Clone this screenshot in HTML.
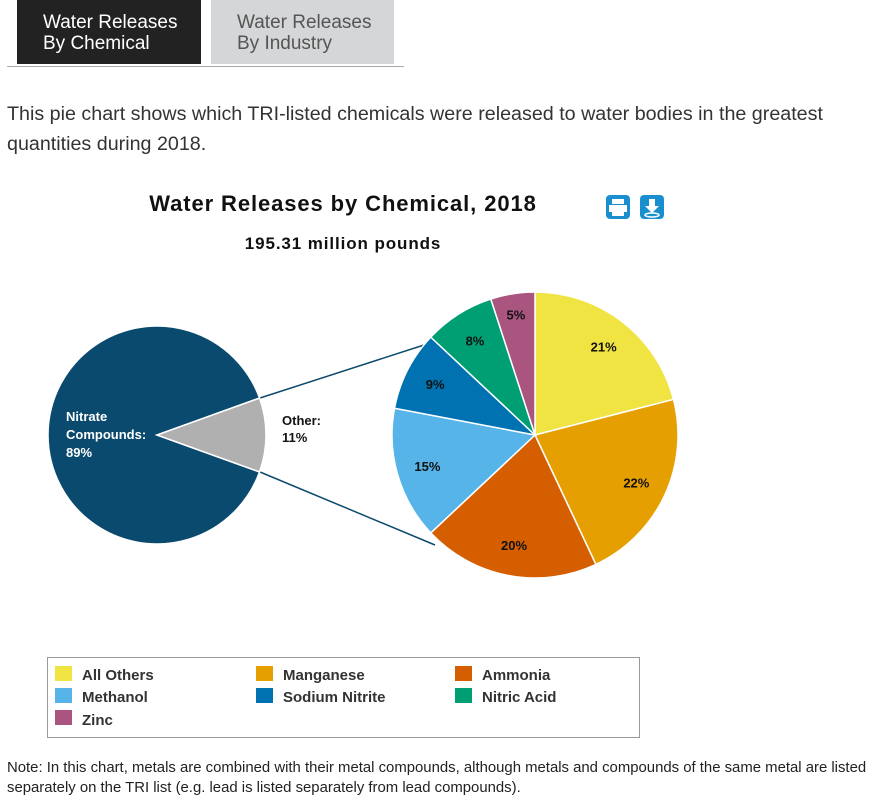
<!DOCTYPE html>
<html><head><meta charset="utf-8"><style>
body{margin:0;width:883px;height:805px;background:#fff;font-family:"Liberation Sans",sans-serif;color:#222;position:relative;overflow:hidden}
.tab{position:absolute;top:0;height:64px;width:184px;font-size:19px;line-height:21px;padding:12px 0 0 26px;box-sizing:border-box}
.t1{left:17px;background:#222;color:#fff}
.t2{left:211px;background:#d5d6d8;color:#555;width:183px}
.rule{position:absolute;left:7px;top:66px;width:397px;border-top:1px solid #aaa}
.intro{position:absolute;left:7px;top:99px;font-size:19.7px;line-height:30px;color:#333;width:876px;white-space:nowrap}
.note{position:absolute;left:7px;top:758px;font-size:14.9px;line-height:20px;color:#222;white-space:nowrap}
svg{position:absolute;left:0;top:0}
</style></head><body>
<div class="tab t1">Water Releases<br>By Chemical</div>
<div class="tab t2">Water Releases<br>By Industry</div>
<div class="rule"></div>
<div class="intro">This pie chart shows which TRI-listed chemicals were released to water bodies in the greatest<br>quantities during 2018.</div>
<svg width="883" height="805" id="s" font-family="Liberation Sans, sans-serif">
<text x="343" y="211" font-size="22" letter-spacing="0.9" font-weight="bold" text-anchor="middle" fill="#111">Water Releases by Chemical, 2018</text>
<text x="343" y="249" font-size="17" letter-spacing="0.9" font-weight="bold" text-anchor="middle" fill="#111">195.31 million pounds</text>
<rect x="606" y="195" width="24" height="24" rx="4" fill="#1a8fd0"/>
<rect x="612" y="199" width="12" height="5" fill="#fff"/><rect x="609" y="205" width="18" height="7" fill="#fff"/><rect x="612" y="212" width="12" height="4" fill="#fff"/>
<rect x="640" y="195" width="24" height="24" rx="4" fill="#1a8fd0"/>
<path d="M649 199h6v7h4l-7 7-7-7h4z" fill="#fff"/><ellipse cx="652" cy="215" rx="7" ry="2" fill="none" stroke="#fff" stroke-width="1.5"/>
<line x1="260" y1="398" x2="424" y2="345" stroke="#0c4a6e" stroke-width="1.5"/>
<line x1="260" y1="472" x2="435" y2="545" stroke="#0c4a6e" stroke-width="1.5"/>
<g id="L"></g><g id="R"></g>
<text x="66" y="421" font-size="13" font-weight="bold" fill="#fff">Nitrate</text>
<text x="66" y="439" font-size="13" font-weight="bold" fill="#fff">Compounds:</text>
<text x="66" y="457" font-size="13" font-weight="bold" fill="#fff">89%</text>
<text x="282" y="425" font-size="13" font-weight="bold" fill="#111">Other:</text>
<text x="282" y="442" font-size="13" font-weight="bold" fill="#111">11%</text>
<rect x="47.5" y="657.5" width="592" height="80" fill="#fff" stroke="#999"/>
<g font-size="15" font-weight="bold" fill="#333">
<rect x="55" y="666" width="17" height="15" fill="#f0e442"/><text x="82" y="680">All Others</text>
<rect x="256" y="666" width="17" height="15" fill="#e69f00"/><text x="283" y="680">Manganese</text>
<rect x="455" y="666" width="17" height="15" fill="#d55e00"/><text x="482" y="680">Ammonia</text>
<rect x="55" y="688" width="17" height="15" fill="#56b4e9"/><text x="82" y="702">Methanol</text>
<rect x="256" y="688" width="17" height="15" fill="#0072b2"/><text x="283" y="702">Sodium Nitrite</text>
<rect x="455" y="688" width="17" height="15" fill="#009e73"/><text x="482" y="702">Nitric Acid</text>
<rect x="55" y="710" width="17" height="15" fill="#a9557f"/><text x="82" y="725">Zinc</text>
</g>
</svg>
<div class="note">Note: In this chart, metals are combined with their metal compounds, although metals and compounds of the same metal are listed<br>separately on the TRI list (e.g. lead is listed separately from lead compounds).</div>
<script>
var NS="http://www.w3.org/2000/svg";
function arc(g,cx,cy,r,a0,a1,fill){var p=document.createElementNS(NS,"path");
var x0=cx+r*Math.sin(a0),y0=cy-r*Math.cos(a0),x1=cx+r*Math.sin(a1),y1=cy-r*Math.cos(a1);
p.setAttribute("d","M"+cx+" "+cy+"L"+x0+" "+y0+"A"+r+" "+r+" 0 "+((a1-a0)>Math.PI?1:0)+" 1 "+x1+" "+y1+"Z");
p.setAttribute("fill",fill);p.setAttribute("stroke","#fff");p.setAttribute("stroke-width","1.5");g.appendChild(p);}
var L=document.getElementById("L"),R=document.getElementById("R");
var h=0.11*Math.PI;
arc(L,157,435,109,Math.PI/2+h,Math.PI/2+2*Math.PI-h,"#0b4a6f");
arc(L,157,435,109,Math.PI/2-h,Math.PI/2+h,"#b0b0b0");
var data=[[21,"#f0e442"],[22,"#e69f00"],[20,"#d55e00"],[15,"#56b4e9"],[9,"#0072b2"],[8,"#009e73"],[5,"#a9557f"]];
var a=0;data.forEach(function(s){var b=a+s[0]/100*2*Math.PI;arc(R,535,435,143,a,b,s[1]);
var m=(a+b)/2,rr=(s[0]<=5)?122:112,t=document.createElementNS(NS,"text");t.setAttribute("x",535+rr*Math.sin(m));t.setAttribute("y",435-rr*Math.cos(m)+5);
t.setAttribute("text-anchor","middle");t.setAttribute("font-size","13");t.setAttribute("font-weight","bold");t.setAttribute("fill","#111");t.textContent=s[0]+"%";R.appendChild(t);a=b;});
</script>
</body></html>
